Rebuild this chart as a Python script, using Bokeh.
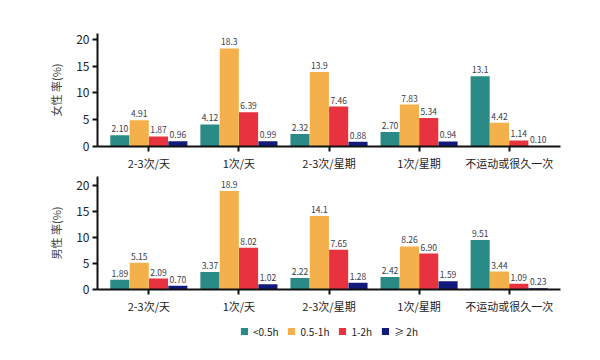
from bokeh.plotting import figure
from bokeh.models import ColumnDataSource, FactorRange, Legend, LegendItem, Range1d, LabelSet
from bokeh.core.properties import value
from bokeh.layouts import column
from bokeh.transform import dodge
from bokeh.embed import file_html
from bokeh.resources import INLINE

categories = ["2-3次/天", "1次/天", "2-3次/星期", "1次/星期", "不运动或很久一次"]
series_names = ["<0.5h", "0.5-1h", "1-2h", "≥ 2h"]
colors = ["#2a8a86", "#f4b04a", "#e8323f", "#121a7c"]

female_lt05 = [2.10, 4.12, 2.32, 2.70, 13.1]
female_05_1 = [4.91, 18.3, 13.9, 7.83, 4.42]
female_1_2 = [1.87, 6.39, 7.46, 5.34, 1.14]
female_ge2 = [0.96, 0.99, 0.88, 0.94, 0.10]

male_lt05 = [1.89, 3.37, 2.22, 2.42, 9.51]
male_05_1 = [5.15, 18.9, 14.1, 8.26, 3.44]
male_1_2 = [2.09, 8.02, 7.65, 6.90, 1.09]
male_ge2 = [0.70, 1.02, 1.28, 1.59, 0.23]

y_ticks = [0, 5, 10, 15, 20]

FONT = "Noto Sans CJK SC"
offsets = [-0.322, -0.107, 0.107, 0.322]
bar_w = 0.212


def fmt(v):
    return f"{v:.1f}" if v >= 10 else f"{v:.2f}"


def make_fig(series, ylabel, border_top, border_bottom, ymax):
    p = figure(x_range=FactorRange(*categories, range_padding=0.028, range_padding_units="percent"),
               y_range=Range1d(0, ymax), frame_width=463, frame_height=113,
               output_backend="svg", toolbar_location=None,
               min_border_left=97, min_border_right=30,
               min_border_top=border_top, min_border_bottom=border_bottom)
    p.outline_line_color = None
    p.xgrid.grid_line_color = None
    p.ygrid.grid_line_color = None
    for i, vals in enumerate(series):
        src = ColumnDataSource(dict(cat=categories, val=vals, lab=[fmt(v) for v in vals]))
        p.vbar(x=dodge("cat", offsets[i], range=p.x_range), top="val", width=bar_w,
               source=src, fill_color=colors[i], line_color=None)
        labels = LabelSet(x=dodge("cat", offsets[i], range=p.x_range), y="val", text="lab",
                          source=src, text_align="center", text_baseline="bottom",
                          y_offset=3, text_font_size="8.5px", text_color="#3a3a4a",
                          text_font=value(FONT))
        p.add_layout(labels)
    for ax in (p.xaxis[0], p.yaxis[0]):
        ax.axis_line_width = 2
        ax.axis_line_color = "#111111"
        ax.major_tick_line_width = 2
        ax.major_tick_line_color = "#111111"
        ax.minor_tick_line_color = None
        ax.major_label_text_font = FONT
        ax.major_label_text_color = "#222222"
    p.yaxis.ticker = y_ticks
    p.yaxis.major_tick_in = 0
    p.yaxis.major_tick_out = 5
    p.yaxis.major_label_text_font_size = "12px"
    p.yaxis.major_label_standoff = 3
    p.yaxis.axis_label = ylabel
    p.yaxis.axis_label_text_font = FONT
    p.yaxis.axis_label_text_font_style = "normal"
    p.yaxis.axis_label_text_font_size = "11px"
    p.yaxis.axis_label_standoff = 9
    p.xaxis.major_tick_in = 0
    p.xaxis.major_tick_out = 5
    p.xaxis.major_label_text_font_size = "11px"
    p.xaxis.major_label_standoff = 3
    return p


top = make_fig([female_lt05, female_05_1, female_1_2, female_ge2], "女性 率(%)",
               33, 20, 21.1)
bottom = make_fig([male_lt05, male_05_1, male_1_2, male_ge2], "男性 率(%)",
                  3, 20, 21.7)

# legend-only figure (its bars lie outside the visible range)
leg = figure(x_range=Range1d(0, 1), y_range=Range1d(0, 1), frame_width=463, frame_height=30,
             output_backend="svg", toolbar_location=None,
             min_border_left=97, min_border_right=30, min_border_top=0, min_border_bottom=0)
leg.axis.visible = False
leg.grid.visible = False
leg.outline_line_color = None
hidden = ColumnDataSource(dict(x=[-50], top=[-50]))
rends = [leg.vbar(x="x", top="top", bottom=-60, width=0.1, source=hidden, fill_color=c,
                  line_color=None) for c in colors]
lg = Legend(items=[LegendItem(label=n, renderers=[r]) for n, r in zip(series_names, rends)],
            orientation="horizontal", location="center",
            label_text_font=FONT, label_text_font_size="10px",
            label_text_color="#222222", glyph_width=9, glyph_height=9,
            label_standoff=5, spacing=8, padding=0, margin=0,
            label_height=12, border_line_color=None, background_fill_alpha=0)
leg.add_layout(lg)

layout = column(top, bottom, leg, spacing=0)
open("out.html", "w").write(file_html(layout, INLINE))
